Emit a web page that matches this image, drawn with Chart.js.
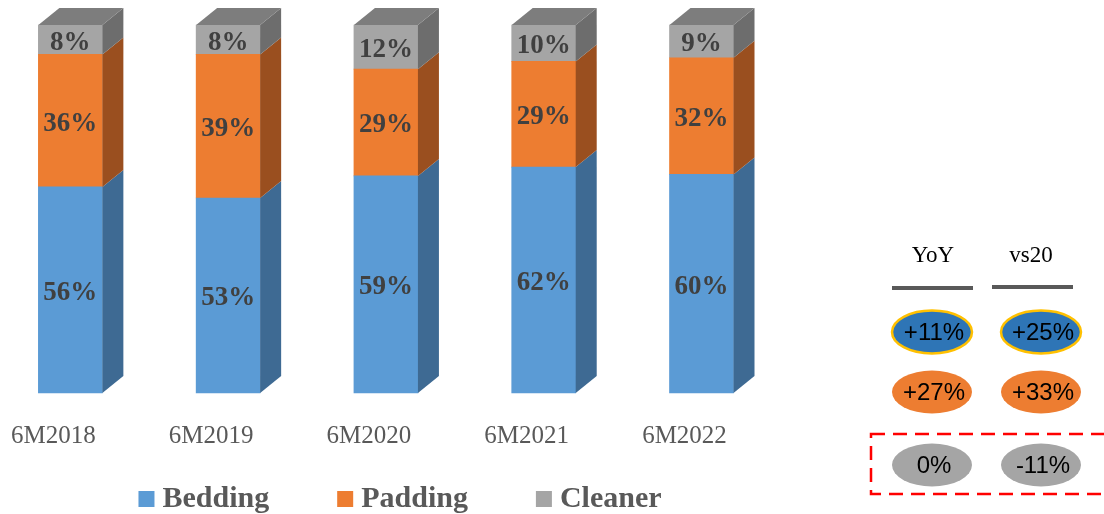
<!DOCTYPE html>
<html>
<head>
<meta charset="utf-8">
<script src="https://cdn.jsdelivr.net/npm/chart.js@4.4.1/dist/chart.umd.min.js"></script>
<style>
  html, body { margin: 0; padding: 0; background: #ffffff; overflow: hidden; }
  #wrap { position: relative; width: 1104px; height: 514px; }
</style>
</head>
<body>
<div id="wrap"><canvas id="c" width="1104" height="514"></canvas></div>
<script>
// Half-year product mix (share of sales, %)
const categories = ['6M2018', '6M2019', '6M2020', '6M2021', '6M2022'];
const seriesNames = ['Bedding', 'Padding', 'Cleaner'];
const bedding = [56, 53, 59, 62, 60];
const padding = [36, 39, 29, 29, 32];
const cleaner = [8, 8, 12, 10, 9];

// Growth side panel
const growthHeaders = ['YoY', 'vs20'];
const beddingGrowth = ['+11%', '+25%'];
const paddingGrowth = ['+27%', '+33%'];
const cleanerGrowth = ['0%', '-11%'];

// Styling
const FRONT = ['#5B9BD5', '#ED7D31', '#A5A5A5'];
const SIDE = ['#3E6A93', '#9A4F1F', '#6D6D6D'];
const TOP_FACE = '#7D7D7D';
const DEPTH_X = 21, DEPTH_Y = 17;
const SERIF = '"Liberation Serif", "DejaVu Serif", serif';
const SANS = '"Liberation Sans", Arial, sans-serif';

const rawSeries = [bedding, padding, cleaner];
const totals = categories.map((_, i) => rawSeries.reduce((s, arr) => s + arr[i], 0));
const toShare = arr => arr.map((v, i) => v / totals[i] * 100);

// Side and top faces of each box, drawn from the bar elements' geometry
const cubeFaces = {
  id: 'cubeFaces',
  afterDatasetsDraw(chart) {
    const ctx = chart.ctx;
    const last = chart.data.datasets.length - 1;
    chart.data.datasets.forEach((ds, di) => {
      const meta = chart.getDatasetMeta(di);
      meta.data.forEach(el => {
        const p = el.getProps(['x', 'y', 'base', 'width'], true);
        const left = p.x - p.width / 2, right = p.x + p.width / 2;
        const top = Math.min(p.y, p.base), bottom = Math.max(p.y, p.base);
        ctx.save();
        ctx.fillStyle = SIDE[di];
        ctx.beginPath();
        ctx.moveTo(right, top);
        ctx.lineTo(right + DEPTH_X, top - DEPTH_Y);
        ctx.lineTo(right + DEPTH_X, bottom - DEPTH_Y);
        ctx.lineTo(right, bottom);
        ctx.closePath();
        ctx.fill();
        if (di === last) {
          ctx.fillStyle = TOP_FACE;
          ctx.beginPath();
          ctx.moveTo(left, top);
          ctx.lineTo(left + DEPTH_X, top - DEPTH_Y);
          ctx.lineTo(right + DEPTH_X, top - DEPTH_Y);
          ctx.lineTo(right, top);
          ctx.closePath();
          ctx.fill();
        }
        ctx.restore();
      });
    });
  }
};

// Percentage labels in the middle of each segment
const segmentLabels = {
  id: 'segmentLabels',
  afterDatasetsDraw(chart) {
    const ctx = chart.ctx;
    ctx.save();
    ctx.font = 'bold 27px ' + SERIF;
    ctx.fillStyle = '#404040';
    ctx.textAlign = 'center';
    ctx.textBaseline = 'middle';
    chart.data.datasets.forEach((ds, di) => {
      const meta = chart.getDatasetMeta(di);
      meta.data.forEach((el, i) => {
        const p = el.getProps(['x', 'y', 'base'], true);
        ctx.fillText(ds.raw[i] + '%', p.x, (p.y + p.base) / 2 + 3);
      });
    });
    ctx.restore();
  }
};

// Legend row under the category labels
const bottomLegend = {
  id: 'bottomLegend',
  afterDraw(chart) {
    const ctx = chart.ctx;
    const box = 16, gap = 8, spacing = 68, centerX = 400, midY = 499;
    ctx.save();
    ctx.font = 'bold 30px ' + SERIF;
    const items = chart.data.datasets.map((ds, i) => ({
      text: ds.label, color: FRONT[i], w: box + gap + ctx.measureText(ds.label).width
    }));
    const total = items.reduce((s, it) => s + it.w, 0) + spacing * (items.length - 1);
    let x = centerX - total / 2;
    ctx.textBaseline = 'middle';
    ctx.textAlign = 'left';
    items.forEach(it => {
      ctx.fillStyle = it.color;
      ctx.fillRect(x, midY - box / 2, box, box);
      ctx.fillStyle = '#595959';
      ctx.fillText(it.text, x + box + gap, midY);
      x += it.w + spacing;
    });
    ctx.restore();
  }
};

// Growth comparison panel on the right
const growthPanel = {
  id: 'growthPanel',
  afterDraw(chart) {
    const ctx = chart.ctx;
    const colX = [932, 1041];
    const rowY = [332, 392, 465];
    const rows = [beddingGrowth, paddingGrowth, cleanerGrowth];
    const fills = ['#2E75B6', '#ED7D31', '#A5A5A5'];
    ctx.save();
    // headers
    ctx.font = '23px ' + SERIF;
    ctx.fillStyle = '#000000';
    ctx.textAlign = 'center';
    ctx.textBaseline = 'middle';
    ctx.fillText(growthHeaders[0], 933, 256);
    ctx.fillText(growthHeaders[1], 1031, 256);
    // header rules
    ctx.strokeStyle = '#595959';
    ctx.lineWidth = 4;
    ctx.beginPath();
    ctx.moveTo(892, 288); ctx.lineTo(973, 288);
    ctx.moveTo(992, 287); ctx.lineTo(1073, 287);
    ctx.stroke();
    // bubbles
    rows.forEach((vals, r) => {
      vals.forEach((txt, c) => {
        ctx.beginPath();
        ctx.ellipse(colX[c], rowY[r], 40, 21.5, 0, 0, Math.PI * 2);
        ctx.fillStyle = fills[r];
        ctx.fill();
        if (r === 0) {
          ctx.strokeStyle = '#FFC000';
          ctx.lineWidth = 2.5;
          ctx.stroke();
        }
        ctx.fillStyle = '#000000';
        ctx.font = '24px ' + SANS;
        ctx.fillText(txt, colX[c] + 2, rowY[r] + 1);
      });
    });
    // dashed highlight around the cleaner row
    ctx.strokeStyle = '#FF0000';
    ctx.lineWidth = 2.5;
    ctx.setLineDash([14, 8]);
    ctx.strokeRect(871, 434, 250, 60);
    ctx.restore();
  }
};

const datasets = seriesNames.map((name, i) => ({
  label: name,
  data: toShare(rawSeries[i]),
  raw: rawSeries[i],
  backgroundColor: FRONT[i],
  borderWidth: 0,
  barThickness: 64,
  clip: false
}));

new Chart(document.getElementById('c'), {
  type: 'bar',
  data: { labels: categories, datasets },
  options: {
    responsive: false,
    animation: false,
    layout: { padding: { left: 70, right: 402.5, top: 25, bottom: 35 } },
    scales: {
      x: {
        stacked: true,
        offset: false,
        grid: { display: false, drawTicks: false },
        border: { display: false },
        ticks: {
          padding: 28,
          labelOffset: -17,
          color: '#595959',
          autoSkip: false,
          maxRotation: 0,
          font: { family: SERIF, size: 25 }
        }
      },
      y: { stacked: true, display: false, min: 0, max: 100 }
    },
    plugins: { legend: { display: false }, tooltip: { enabled: false } }
  },
  plugins: [cubeFaces, segmentLabels, bottomLegend, growthPanel]
});
</script>
</body>
</html>
